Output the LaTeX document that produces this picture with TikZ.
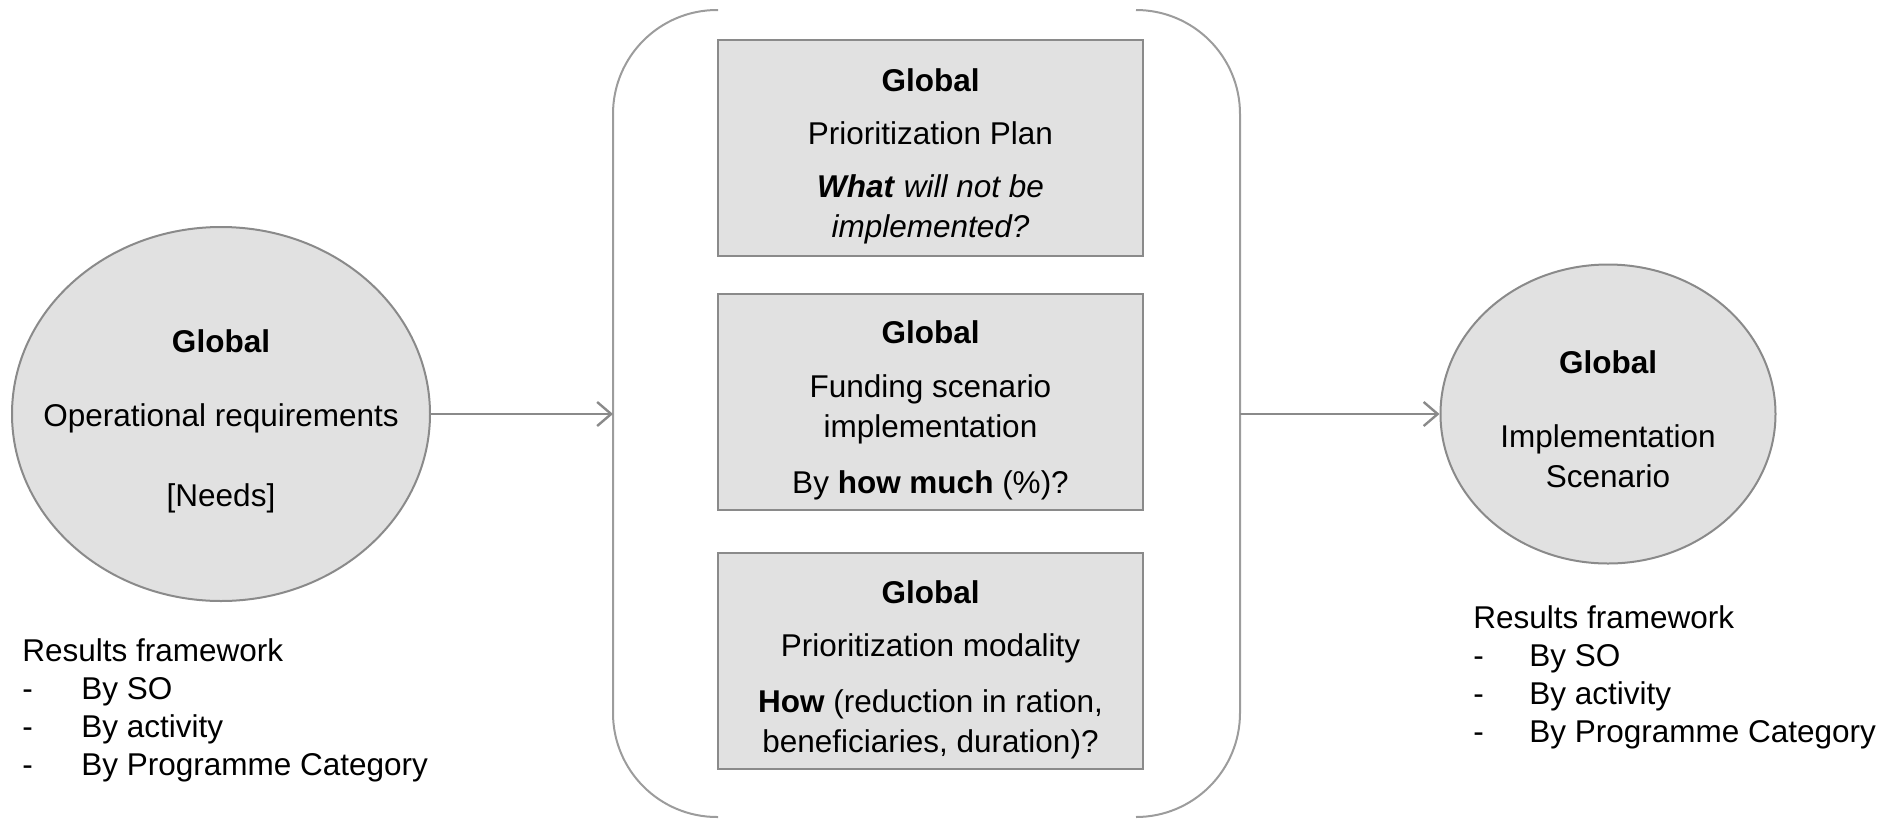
\documentclass[tikz,border=0pt]{standalone}
\usepackage{fontspec}
\setmainfont{Liberation Sans}
\usetikzlibrary{shapes.geometric,arrows.meta}
\definecolor{panelgray}{HTML}{E1E1E1}
\definecolor{edgegray}{HTML}{8A8A8A}

\begin{document}
\begin{tikzpicture}[
    x=0.5pt, y=-0.5pt,
    font=\fontsize{15.75pt}{20pt}\selectfont,
    oval/.style={draw=edgegray, line width=1pt, ellipse, fill=panelgray, inner sep=0pt},
    stage/.style={draw=edgegray, line width=1pt, rectangle, fill=panelgray, minimum width=212.5pt, minimum height=108pt, inner sep=0pt},
    caption/.style={align=center, inner sep=0pt},
    bracket/.style={draw=edgegray!85, line width=1pt, rounded corners=52pt},
    arrow/.style={-{Straight Barb[length=7pt,width=12pt]}, draw=edgegray, line width=1.2pt},
    results/.style={anchor=north west, inner sep=0pt, align=left, font=\fontsize{15.75pt}{19pt}\selectfont}
]
    \useasboundingbox (0,0) rectangle (1902,820);

    % Needs on the left, scenario on the right
    \node[oval, minimum width=209pt, minimum height=187pt] (needs) at (221,414) {};
    \node[caption] (needsText) at (221,421)
        {\textbf{Global}\\[17pt]Operational requirements\\[20pt]{[Needs]}};
    \node[oval, minimum width=167.5pt, minimum height=149.5pt] (scen) at (1608,414) {};
    \node[caption] (scenText) at (1608,419)
        {\textbf{Global}\\[17pt]Implementation\\Scenario};

    % The three prioritization steps
    \node[stage] (plan) at (930.5,148) {};
    \node[caption] (planText) at (930.5,156.5)
        {\textbf{Global}\\[6.5pt]Prioritization Plan\\[6.5pt]\textbf{\textit{What}} \textit{will not be}\\\textit{implemented?}};
    \node[stage] (fund) at (930.5,401.5) {};
    \node[caption] (fundText) at (930.5,410)
        {\textbf{Global}\\[7pt]Funding scenario\\implementation\\[8pt]By \textbf{how much} (\%)?};
    \node[stage] (mode) at (930.5,661) {};
    \node[caption] (modeText) at (930.5,669.5)
        {\textbf{Global}\\[6.5pt]Prioritization modality\\[8pt]\textbf{How} (reduction in ration,\\beneficiaries, duration)?};

    % Bracket around the steps
    \draw[bracket] (718,10) -| (613,817) -- (718,817);
    \draw[bracket] (1136,10) -| (1240,817) -- (1136,817);
    \coordinate (inL) at (613,414);
    \coordinate (outR) at (1240,414);

    % Flow
    \draw[arrow] (needs.east) -- (inL);
    \draw[arrow] (outR) -- (scen.west);

    % Results framework lists
    \node[results] (resL) at (22,638)
        {Results framework\\\makebox[29.5pt][l]{-}By SO\\\makebox[29.5pt][l]{-}By activity\\\makebox[29.5pt][l]{-}By Programme Category};
    \node[results] (resR) at (1473,605)
        {Results framework\\\makebox[28pt][l]{-}By SO\\\makebox[28pt][l]{-}By activity\\\makebox[28pt][l]{-}By Programme Category};
\end{tikzpicture}
\end{document}
